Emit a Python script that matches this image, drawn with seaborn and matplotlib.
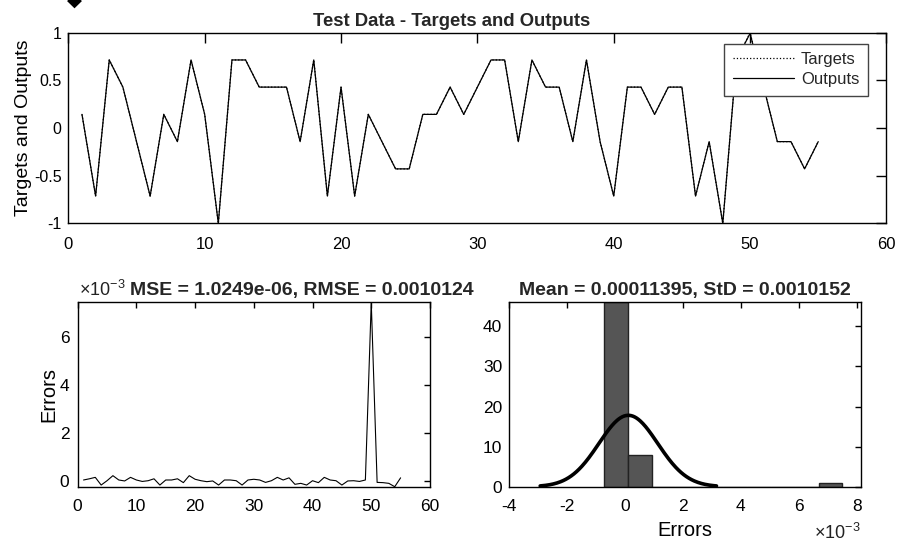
import numpy as np
import pandas as pd
import matplotlib
matplotlib.use("Agg")
import matplotlib.pyplot as plt
import seaborn as sns
from matplotlib.ticker import FuncFormatter, MultipleLocator

sns.set_theme(style="white")
plt.rcParams['font.family'] = ['Liberation Sans', 'DejaVu Sans']
plt.rcParams['axes.unicode_minus'] = False
plt.rcParams['mathtext.fontset'] = 'custom'
plt.rcParams['mathtext.rm'] = 'Liberation Sans'

# ---------------- data ----------------
sample_index = list(range(1, 56))
targets = [
    0.143, -0.714, 0.714, 0.429, -0.143, -0.714, 0.143, -0.143, 0.714, 0.143,
    -1.0, 0.714, 0.714, 0.429, 0.429, 0.429, -0.143, 0.714, -0.714, 0.429,
    -0.714, 0.143, -0.143, -0.429, -0.429, 0.143, 0.143, 0.429, 0.143, 0.429,
    0.714, 0.714, -0.143, 0.714, 0.429, 0.429, -0.143, 0.714, -0.143, -0.714,
    0.429, 0.429, 0.143, 0.429, 0.429, -0.714, -0.143, -1.0, 0.714, 1.0,
    0.429, -0.143, -0.143, -0.429, -0.143,
]
errors_e3 = [  # errors in units of 1e-3
    0.03, 0.08, 0.14, -0.18, 0.00, 0.21, 0.03, -0.01, 0.14, 0.03,
    -0.03, 0.00, 0.08, -0.18, 0.03, 0.03, 0.08, -0.08, 0.21, 0.06,
    0.00, -0.04, -0.01, -0.18, 0.03, 0.03, 0.00, -0.18, 0.03, 0.06,
    0.03, -0.07, 0.00, 0.14, 0.03, 0.12, -0.15, -0.11, -0.18, 0.00,
    -0.08, 0.14, 0.03, 0.00, -0.18, -0.01, 0.00, -0.03, 0.03, 7.43,
    -0.07, -0.08, -0.11, -0.25, 0.12,
]
mean_err = 0.00011395
std_err = 0.0010152
top_title = "Test Data - Targets and Outputs"
mse_title = "MSE = 1.0249e-06, RMSE = 0.0010124"
hist_title = "Mean = 0.00011395, StD = 0.0010152"

errors = np.array(errors_e3) * 1e-3
outputs = np.array(targets) - errors
df = pd.DataFrame({"idx": sample_index, "Targets": targets, "Outputs": outputs, "Errors": errors})

# ---------------- figure ----------------
fig = plt.figure(figsize=(8.98, 5.44), dpi=100)
fig.patch.set_facecolor("white")

ax1 = fig.add_axes([0.0761, 0.5895, 0.911, 0.3504])
ax2 = fig.add_axes([0.0865, 0.1053, 0.3923, 0.339])
ax3 = fig.add_axes([0.5671, 0.1053, 0.3916, 0.339])

def style_axes(ax, ticklen, fs, xpad, ypad):
    for s in ax.spines.values():
        s.set_visible(True)
        s.set_color("black")
        s.set_linewidth(1.0)
    ax.set_facecolor("white")
    ax.grid(False)
    ax.tick_params(direction="in", length=ticklen, width=1.0, top=True, right=True,
                   labelsize=fs, colors="black")
    ax.tick_params(axis="x", pad=xpad)
    ax.tick_params(axis="y", pad=ypad)

gfmt = FuncFormatter(lambda v, p: "%g" % round(v, 6))
e3fmt = FuncFormatter(lambda v, p: "%g" % round(v * 1e3, 6))
offset_label = r"$\mathregular{\times10^{-3}}$"

# top plot
sns.lineplot(data=df, x="idx", y="Targets", ax=ax1, color="black", lw=0.9,
             linestyle=":", label="Targets")
sns.lineplot(data=df, x="idx", y="Outputs", ax=ax1, color="black", lw=0.9,
             label="Outputs")
ax1.set_xlim(0, 60)
ax1.set_ylim(-1, 1)
ax1.xaxis.set_major_locator(MultipleLocator(10))
ax1.yaxis.set_major_locator(MultipleLocator(0.5))
ax1.yaxis.set_major_formatter(gfmt)
style_axes(ax1, 7, 12, 10, 5)
ax1.tick_params(axis="y", labelsize=11.5)
ax1.set_xlabel("")
ax1.set_ylabel("Targets and Outputs", fontsize=14, color="black", labelpad=1)
ax1.set_title(top_title, fontsize=13.3, fontweight="bold", x=0.468, pad=5)
leg = ax1.legend(loc="upper right", bbox_to_anchor=(0.977, 0.9407), borderaxespad=0,
                 fontsize=12, frameon=True, fancybox=False, handlelength=3.7,
                 handletextpad=0.4, borderpad=0.5, labelspacing=0.3)
leg.get_frame().set_edgecolor("#444444")
leg.get_frame().set_linewidth(1.0)
leg.get_frame().set_facecolor("white")
leg.get_frame().set_alpha(1)

# errors plot
sns.lineplot(data=df, x="idx", y="Errors", ax=ax2, color="black", lw=0.8)
ax2.set_xlim(0, 60)
ax2.set_ylim(errors.min(), errors.max())
ax2.xaxis.set_major_locator(MultipleLocator(10))
ax2.yaxis.set_major_locator(MultipleLocator(0.002))
ax2.yaxis.set_major_formatter(e3fmt)
style_axes(ax2, 4, 12.5, 9, 6)
ax2.set_xlabel("")
ax2.set_ylabel("Errors", fontsize=14.5, color="black", labelpad=1)
ax2.set_title(mse_title, fontsize=14, fontweight="bold", x=0.637, pad=5)
ax2.text(0.005, 1.012, offset_label, transform=ax2.transAxes, ha="left", va="bottom",
         fontsize=13, color="#222222")

# histogram
bin_lo, bin_hi = -0.73e-3, 7.51e-3
sns.histplot(x=errors, ax=ax3, bins=10, binrange=(bin_lo, bin_hi), stat="count",
             color="#555555", edgecolor="#222222", linewidth=1.0, alpha=1.0)
xs = np.linspace(mean_err - 3 * std_err, mean_err + 3 * std_err, 200)
bw = (bin_hi - bin_lo) / 10
ys = len(errors) * bw / (np.sqrt(2 * np.pi) * std_err) * np.exp(-0.5 * ((xs - mean_err) / std_err) ** 2)
sns.lineplot(x=xs, y=ys, ax=ax3, color="black", lw=2.6)
ax3.set_xlim(-4e-3, 8.15e-3)
ax3.set_ylim(0, 46)
ax3.xaxis.set_major_locator(MultipleLocator(0.002))
ax3.xaxis.set_major_formatter(e3fmt)
ax3.yaxis.set_major_locator(MultipleLocator(10))
style_axes(ax3, 4, 12.5, 9, 5)
ax3.set_ylabel("")
ax3.set_xlabel("Errors", fontsize=14.5, color="black", labelpad=5)
ax3.set_title(hist_title, fontsize=14, fontweight="bold", pad=5)
ax3.text(1.0, -0.195, offset_label, transform=ax3.transAxes, ha="right", va="top",
         fontsize=13, color="#222222")

# cropped glyph at top-left of screenshot
fig.text(74 / 898, 1.0, "\u25C6", fontsize=14, ha="center", va="center",
         color="black", family=["DejaVu Sans"])

fig.savefig("out.png", dpi=100, facecolor="white")
